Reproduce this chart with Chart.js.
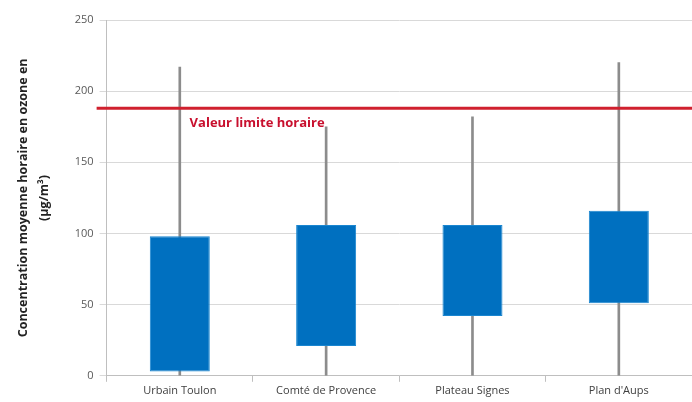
<!DOCTYPE html>
<html>
<head>
<meta charset="utf-8">
<script src="https://cdn.jsdelivr.net/npm/chart.js@4/dist/chart.umd.min.js"></script>
<style>
  html, body { margin: 0; padding: 0; background: #fff; }
  #wrap { width: 692px; height: 402px; }
</style>
</head>
<body>
<div id="wrap"><canvas id="c" width="692" height="402"></canvas></div>
<script>
// sites
const categories = ['Urbain Toulon', 'Comté de Provence', 'Plateau Signes', "Plan d'Aups"];
// whiskers: min / max
const minValues = [0, 0, 0, 0];
const maxValues = [217, 175, 182, 220];
// boxes: low / high
const boxLow = [3, 21, 42, 51];
const boxHigh = [98, 106, 106, 116];
// hourly limit
const limitValue = 188;
const limitLabel = 'Valeur limite horaire';
const yTicks = [0, 50, 100, 150, 200, 250];

const whiskers = categories.map((c, i) => [minValues[i], maxValues[i]]);
const boxes = categories.map((c, i) => [boxLow[i], boxHigh[i]]);

// red limit line + label
const limitLine = {
  id: 'limitLine',
  afterDatasetsDraw(chart) {
    const { ctx, chartArea, scales } = chart;
    const y = scales.y.getPixelForValue(limitValue);
    ctx.save();
    ctx.strokeStyle = '#d0202e';
    ctx.lineWidth = 3;
    ctx.beginPath();
    ctx.moveTo(chartArea.left - 10, y);
    ctx.lineTo(chartArea.right, y);
    ctx.stroke();
    ctx.fillStyle = '#c8102e';
    ctx.font = 'bold 13px "Open Sans", sans-serif';
    ctx.textBaseline = 'middle';
    ctx.fillText(limitLabel, chartArea.left + 83, y + 15);
    ctx.restore();
  }
};

new Chart(document.getElementById('c'), {
  type: 'bar',
  data: {
    labels: categories,
    datasets: [
      {
        label: 'Max',
        data: whiskers,
        backgroundColor: '#8c8c8c',
        barThickness: 2,
        grouped: false,
        order: 2
      },
      {
        label: 'Box',
        data: boxes,
        backgroundColor: '#0070c0',
        borderColor: '#1a86d0',
        borderWidth: 1,
        borderSkipped: false,
        barPercentage: 0.41,
        categoryPercentage: 1,
        grouped: false,
        order: 1
      }
    ]
  },
  options: {
    responsive: false,
    animation: false,
    layout: { padding: { top: 20, right: 0, left: 12, bottom: 3 } },
    plugins: {
      legend: { display: false },
      tooltip: { enabled: false }
    },
    scales: {
      x: {
        grid: { display: true, drawOnChartArea: false, tickLength: 6, color: '#bfbfbf' },
        border: { color: '#bfbfbf' },
        ticks: { color: '#404040', font: { size: 11, family: '"Open Sans", sans-serif' }, padding: 2 }
      },
      y: {
        min: 0,
        max: 250,
        afterBuildTicks(axis) { axis.ticks = yTicks.map(v => ({ value: v })); },
        grid: { color: '#d9d9d9', tickLength: 7 },
        border: { color: '#bfbfbf' },
        ticks: { color: '#595959', font: { size: 11, family: '"Open Sans", sans-serif' }, padding: 6 },
        title: {
          display: true,
          text: ['Concentration moyenne horaire en ozone en', '(µg/m³)'],
          color: '#222',
          font: { size: 12.5, weight: 'bold', family: '"Open Sans", sans-serif', lineHeight: 1.75 },
          padding: { top: 0, bottom: 13 }
        }
      }
    }
  },
  plugins: [limitLine]
});
</script>
</body>
</html>
